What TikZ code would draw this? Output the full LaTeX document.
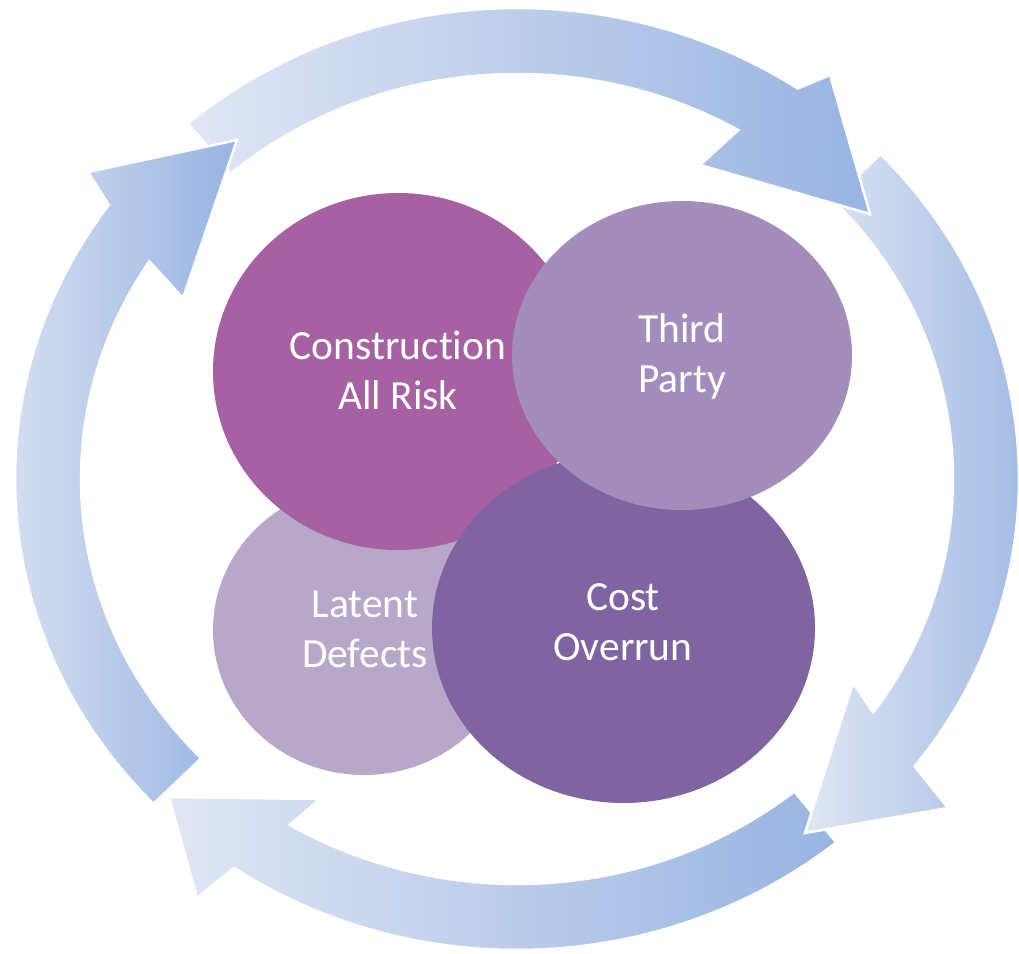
\documentclass[tikz,border=0pt]{standalone}
\usepackage{fontspec}
\setmainfont{Carlito}[Ligatures=NoCommon]
\usetikzlibrary{calc}
\definecolor{arrowL}{RGB}{224,230,244}
\definecolor{arrowR}{RGB}{152,180,226}
\definecolor{carColor}{RGB}{165,97,161}
\definecolor{tpColor}{RGB}{163,141,187}
\definecolor{coColor}{RGB}{128,100,162}
\definecolor{ldColor}{RGB}{183,168,202}
\tikzset{
  cyclearrow/.style={left color=arrowL, right color=arrowR, draw=white, line width=2.5pt, line join=miter},
  risklabel/.style={text=white, align=center, font=\fontsize{41.5}{50}\selectfont, anchor=base}
}
\begin{document}
\begin{tikzpicture}[x=1pt,y=1pt]
\useasboundingbox (0,0) rectangle (1019,953);
\coordinate (C) at (517,474);
% left arrow
\path[cyclearrow] ($(C)+(223.6:502pt and 471pt)$) arc[start angle=223.6, end angle=144.4, x radius=502pt, y radius=471pt] -- (88,781) -- (237,813) -- (183,655) -- ($(C)+(147.5:436pt and 405pt)$) arc[start angle=147.5, end angle=223.6, x radius=436pt, y radius=405pt] -- cycle;
% bottom arrow
\path[cyclearrow] ($(C)+(-50.5:502pt and 471pt)$) arc[start angle=-50.5, end angle=-124.3, x radius=502pt, y radius=471pt] -- (197,55) -- (169,156) -- (320,154) -- ($(C)+(-121.4:436pt and 405pt)$) arc[start angle=-121.4, end angle=-50.5, x radius=436pt, y radius=405pt] -- cycle;
% right arrow
\path[cyclearrow] ($(C)+(43.6:502pt and 471pt)$) arc[start angle=43.6, end angle=-37.6, x radius=502pt, y radius=471pt] -- (948,145) -- (805,120) -- (853,270) -- ($(C)+(-35.2:436pt and 405pt)$) arc[start angle=-35.2, end angle=43.6, x radius=436pt, y radius=405pt] -- cycle;
% top arrow
\path[cyclearrow] ($(C)+(131:502pt and 471pt)$) arc[start angle=131, end angle=56, x radius=502pt, y radius=471pt] -- (830,878) -- (870,739) -- (700,788) -- ($(C)+(59.5:436pt and 405pt)$) arc[start angle=59.5, end angle=131, x radius=436pt, y radius=405pt] -- cycle;
% left arrow head again, over the top arrow's tail
\begin{scope}
\clip (60,620) rectangle (270,840);
\path[cyclearrow] ($(C)+(223.6:502pt and 471pt)$) arc[start angle=223.6, end angle=144.4, x radius=502pt, y radius=471pt] -- (88,781) -- (237,813) -- (183,655) -- ($(C)+(147.5:436pt and 405pt)$) arc[start angle=147.5, end angle=223.6, x radius=436pt, y radius=405pt] -- cycle;
\end{scope}
% circles
\fill[ldColor] (364,323) ellipse [x radius=151pt, y radius=145pt];
\fill[carColor] (398,581.5) ellipse [x radius=185pt, y radius=178.5pt];
\fill[coColor] (623.5,325) ellipse [x radius=191.5pt, y radius=175pt];
\fill[tpColor] (682,597.5) ellipse [x radius=170pt, y radius=154.5pt];
% labels (anchored at the baseline of the last line)
\node[risklabel] (car) at (398,543) {Construction\\All Risk};
\node[risklabel] (tp) at (682,560) {Third\\Party};
\node[risklabel] (ld) at (365,285) {Latent\\Defects};
\node[risklabel] (co) at (623,292) {Cost\\Overrun};
\end{tikzpicture}
\end{document}
